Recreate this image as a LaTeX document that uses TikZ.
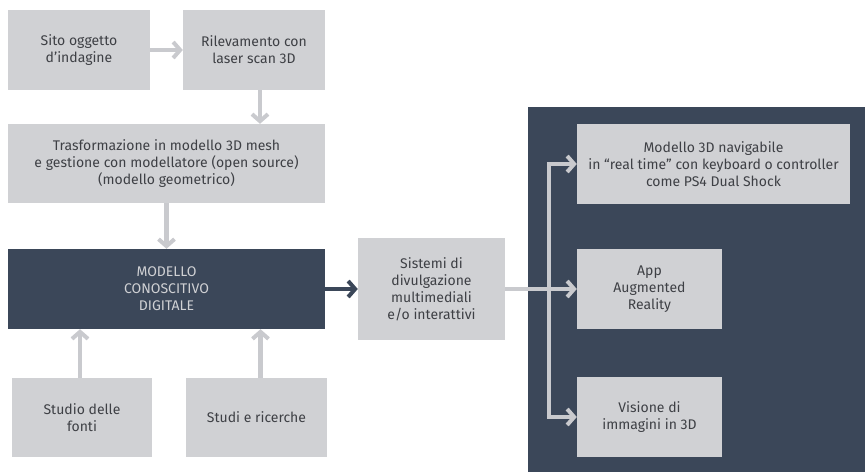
\documentclass[tikz,border=0pt]{standalone}
\usepackage{fontspec}
\setmainfont{Fira Sans}
\usetikzlibrary{arrows.meta}
\definecolor{boxgray}{HTML}{D0D1D4}
\definecolor{navy}{HTML}{3B4759}
\definecolor{arrgray}{HTML}{C9CACE}
\definecolor{txt}{HTML}{3E4045}
\begin{document}
\begin{tikzpicture}[x=1pt,y=-1pt,
  lbox/.style={fill=boxgray, draw=none, text=txt, align=center, inner sep=0pt,
    font=\fontsize{14}{17}\selectfont},
  dbox/.style={fill=navy, draw=none, text=boxgray, align=center, inner sep=0pt,
    font=\fontsize{14}{17}\selectfont},
  garrow/.style={draw=arrgray, line width=4.5pt, -{Straight Barb[length=7pt,width=16pt,line width=4pt]}},
  darrow/.style={draw=navy, line width=4.5pt, -{Straight Barb[length=7pt,width=16pt,line width=4pt]}},
  gline/.style={draw=arrgray, line width=4.5pt}]
\useasboundingbox (0,0) rectangle (865,472);
\fill[white] (0,0) rectangle (865,472);
% panel
\fill[navy] (528,107) rectangle (865,472);
% nodes
\node[lbox, minimum width=142, minimum height=80] (a) at (79,50) {Sito oggetto\\d'indagine};
\node[lbox, minimum width=142, minimum height=80] (b) at (254,50) {Rilevamento con\\laser scan 3D};
\node[lbox, minimum width=317, minimum height=79] (c) at (166.5,163.5) {Trasformazione in modello 3D mesh\\e gestione con modellatore (open source)\\(modello geometrico)};
\node[dbox, minimum width=317, minimum height=80] (d) at (166.5,289) {MODELLO\\CONOSCITIVO\\DIGITALE};
\node[lbox, minimum width=140, minimum height=79] (e) at (82,417.5) {Studio delle\\fonti};
\node[lbox, minimum width=141, minimum height=79] (f) at (256.5,417.5) {Studi e ricerche};
\node[lbox, minimum width=147, minimum height=102] (g) at (431.5,289) {Sistemi di\\divulgazione\\multimediali\\e/o interattivi};
\node[lbox, minimum width=273, minimum height=80] (h) at (713.5,164) {Modello 3D navigabile\\in “real time” con keyboard o controller\\come PS4 Dual Shock};
\node[lbox, minimum width=145, minimum height=80] (i) at (649.5,289) {App\\Augmented\\Reality};
\node[lbox, minimum width=145, minimum height=80] (j) at (649.5,417) {Visione di\\immagini in 3D};
% connectors left
\draw[garrow] (a.east) -- (b.west);
\draw[garrow] ([xshift=6pt]b.south) -- ([xshift=6pt]b.south |- c.north);
\draw[garrow] (c.south) -- (c.south |- d.north);
\draw[garrow] ([xshift=-2pt]e.north) -- ([xshift=-2pt]e.north |- d.south);
\draw[garrow] ([xshift=4pt]f.north) -- ([xshift=4pt]f.north |- d.south);
\draw[darrow] (d.east) -- (g.west);
% right side
\coordinate (vt) at (549,164);
\coordinate (vb) at (549,417);
\draw[gline] (vt) -- (vb);
\draw[garrow] ([xshift=-2.25pt]vt) -- (h.west);
\draw[garrow] ([xshift=-2.25pt]vb) -- (j.west);
\draw[garrow] (g.east) -- (i.west);
\end{tikzpicture}
\end{document}
